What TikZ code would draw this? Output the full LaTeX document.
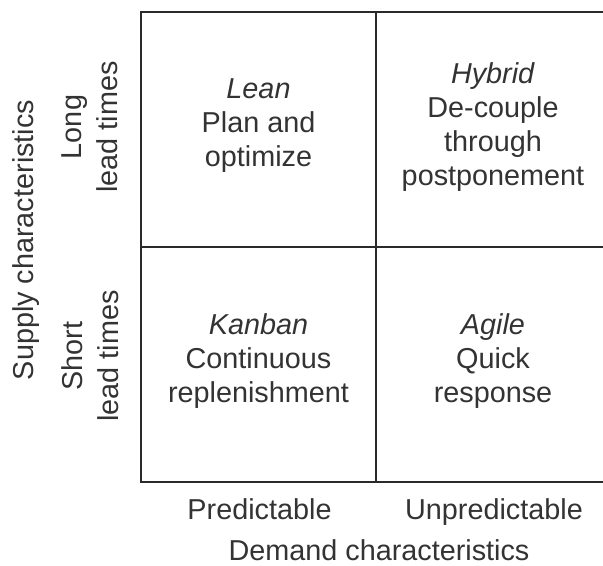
\documentclass[tikz,border=0pt]{standalone}
\usepackage{fontspec}
\setmainfont{Liberation Sans}
\definecolor{txt}{HTML}{333333}
\definecolor{ln}{HTML}{2A2A2A}
\tikzset{
  gridline/.style={draw=ln, line width=1.7pt, line cap=rect},
  lbl/.style={text=txt, inner sep=0pt, outer sep=0pt, font=\fontsize{21.6}{25.5}\selectfont},
  cell/.style={lbl, align=center},
  side/.style={lbl, align=center, rotate=90, font=\fontsize{21.6}{27}\selectfont},
}
\begin{document}
\begin{tikzpicture}[x=0.75pt, y=-0.75pt]
\useasboundingbox (0,0) rectangle (603,566);
% grid
\coordinate (tl) at (141,12);
\coordinate (tm) at (376,12);
\coordinate (tr) at (604,12);
\coordinate (ml) at (141,247);
\coordinate (mr) at (604,247);
\coordinate (bl) at (141,482);
\coordinate (bm) at (376,482);
\coordinate (br) at (604,482);
\draw[gridline] (tr) -- (tl) -- (bl) -- (br);
\draw[gridline] (tm) -- (bm);
\draw[gridline] (ml) -- (mr);
% cells
\node[cell] (lean) at (258.5,126) {\textit{Lean}\\Plan and\\optimize};
\node[cell] (hybrid) at (493,127) {\textit{Hybrid}\\De-couple\\through\\postponement};
\node[cell] (kanban) at (258.5,361) {\textit{Kanban}\\Continuous\\replenishment};
\node[cell] (agile) at (493,361) {\textit{Agile}\\Quick\\response};
% axis labels
\node[lbl, anchor=base] (pred) at (259.5,519) {Predictable};
\node[lbl, anchor=base] (unpred) at (494,519) {Unpredictable};
\node[lbl, anchor=base] (demand) at (379,560) {Demand characteristics};
\node[side] (long) at (90,127) {Long\\lead times};
\node[side] (short) at (90,356) {Short\\lead times};
\node[lbl, rotate=90] (supply) at (26,240) {Supply characteristics};
\end{tikzpicture}
\end{document}
